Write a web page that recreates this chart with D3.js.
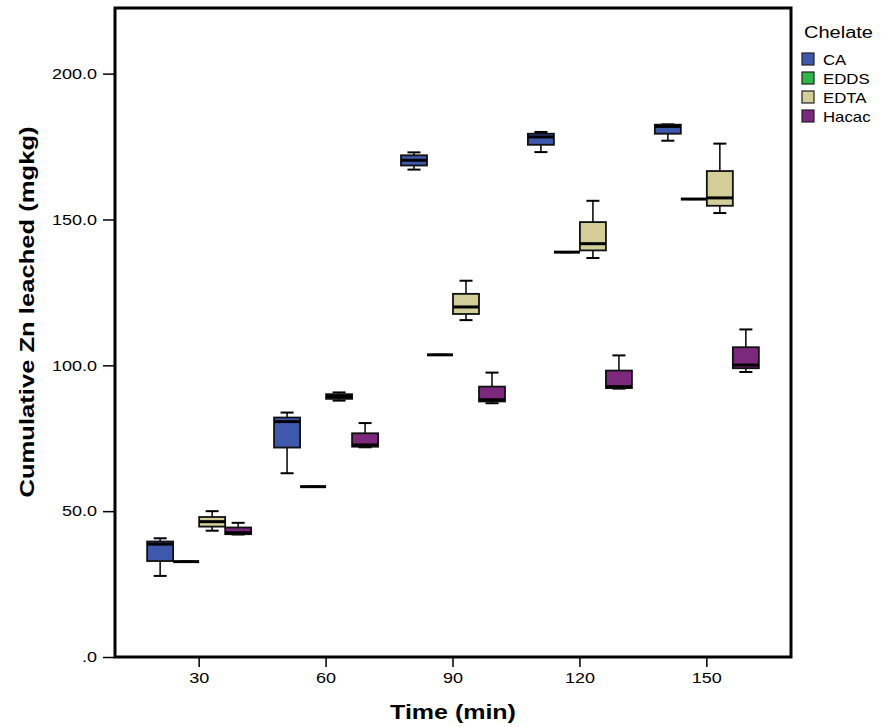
<!DOCTYPE html>
<html>
<head>
<meta charset="utf-8">
<script src="https://cdn.jsdelivr.net/npm/d3@7"></script>
<style>
body { margin: 0; background: #fff; }
text { font-family: Arial, "Liberation Sans", sans-serif; fill: #000; }
</style>
</head>
<body>
<script>
var times = ["30", "60", "90", "120", "150"];
var chelates = ["CA", "EDDS", "EDTA", "Hacac"];
var colors = ["#3e58ac", "#2eb848", "#d3ce97", "#7c287d"];
var yTicks = [0, 50, 100, 150, 200];

// [low whisker, Q1, median, Q3, high whisker] for each time
var caStats = [[27.8, 32.9, 38.7, 39.6, 40.7], [63.0, 71.8, 80.7, 82.1, 83.8], [167.1, 168.5, 170.3, 172.0, 173.0], [173.1, 175.6, 178.3, 179.4, 180.0], [177.0, 179.4, 181.9, 182.5, 182.6]];
var eddsStats = [[32.7, 32.7, 32.7, 32.7, 32.7], [58.4, 58.4, 58.4, 58.4, 58.4], [103.6, 103.6, 103.6, 103.6, 103.6], [138.8, 138.8, 138.8, 138.8, 138.8], [157.0, 157.0, 157.0, 157.0, 157.0]];
var edtaStats = [[43.3, 44.7, 46.4, 48.0, 50.0], [87.9, 88.5, 89.3, 90.1, 90.7], [115.5, 117.6, 120.0, 124.5, 129.0], [136.8, 139.4, 141.7, 149.1, 156.4], [152.2, 154.7, 157.4, 166.6, 176.0]];
var hacacStats = [[42.0, 42.1, 42.6, 44.4, 46.0], [71.9, 72.1, 72.7, 76.7, 80.2], [87.0, 87.6, 88.2, 92.7, 97.5], [92.0, 92.2, 92.7, 98.2, 103.4], [97.7, 99.0, 100.1, 106.2, 112.3]];

var allStats = [caStats, eddsStats, edtaStats, hacacStats];

var width = 882, height = 727;
var plotLeft = 115, plotRight = 791, plotTop = 8, plotBottom = 657;

var svg = d3.select("body").append("svg")
    .attr("width", width)
    .attr("height", height);

var x = d3.scaleBand().domain(times).range([plotLeft, plotRight]).paddingInner(0).paddingOuter(0.163);
var sub = d3.scaleBand().domain(chelates).range([0, x.bandwidth()]).paddingInner(0).paddingOuter(0.44);
var y = d3.scaleLinear().domain([0, 222.5]).range([plotBottom, plotTop]);
var color = d3.scaleOrdinal().domain(chelates).range(colors);

var rows = [];
chelates.forEach(function (c, ci) {
    times.forEach(function (t, ti) {
        var s = allStats[ci][ti];
        rows.push({ chelate: c, time: t, low: s[0], q1: s[1], med: s[2], q3: s[3], high: s[4] });
    });
});

// axes
var xAxis = svg.append("g")
    .attr("transform", "translate(0," + plotBottom + ")")
    .call(d3.axisBottom(x).tickSize(10).tickPadding(5));
xAxis.select(".domain").remove();
xAxis.selectAll("line").attr("stroke-width", 1.5);
xAxis.selectAll("text").style("font-size", "15px").attr("transform", "scale(1.2,1)");

var yAxis = svg.append("g")
    .attr("transform", "translate(" + plotLeft + ",0)")
    .call(d3.axisLeft(y).tickValues(yTicks).tickSize(12).tickPadding(3)
        .tickFormat(function (d) { return d === 0 ? ".0" : d3.format(".1f")(d); }));
yAxis.select(".domain").remove();
yAxis.selectAll("line").attr("stroke-width", 1.5);
yAxis.selectAll("text").style("font-size", "15px").attr("transform", "scale(1.2,1)");

// boxes
var g = svg.selectAll(".box")
    .data(rows)
    .enter().append("g")
    .attr("class", "box")
    .attr("transform", function (d) { return "translate(" + (x(d.time) + sub(d.chelate)) + ",0)"; });

var bw = sub.bandwidth();

g.append("line")
    .attr("x1", bw / 2).attr("x2", bw / 2)
    .attr("y1", function (d) { return y(d.high); })
    .attr("y2", function (d) { return y(d.low); })
    .attr("stroke", "#000").attr("stroke-width", 1.5);

g.selectAll(".cap")
    .data(function (d) { return [d.low, d.high]; })
    .enter().append("line")
    .attr("x1", bw / 4).attr("x2", bw * 3 / 4)
    .attr("y1", function (v) { return y(v); })
    .attr("y2", function (v) { return y(v); })
    .attr("stroke", "#000").attr("stroke-width", 2);

g.append("rect")
    .attr("x", 0)
    .attr("width", bw)
    .attr("y", function (d) { return y(d.q3); })
    .attr("height", function (d) { return y(d.q1) - y(d.q3); })
    .attr("fill", function (d) { return color(d.chelate); })
    .attr("stroke", "#111").attr("stroke-width", 1.8);

g.append("line")
    .attr("x1", 0).attr("x2", bw)
    .attr("y1", function (d) { return y(d.med); })
    .attr("y2", function (d) { return y(d.med); })
    .attr("stroke", "#000").attr("stroke-width", 3);

// frame
svg.append("rect")
    .attr("x", plotLeft).attr("y", plotTop)
    .attr("width", plotRight - plotLeft).attr("height", plotBottom - plotTop)
    .attr("fill", "none").attr("stroke", "#000").attr("stroke-width", 3);

// axis titles
svg.append("text")
    .attr("transform", "translate(" + ((plotLeft + plotRight) / 2) + ",719) scale(1.25,1)")
    .attr("text-anchor", "middle")
    .style("font-size", "20px").style("font-weight", "bold")
    .text("Time (min)");

svg.append("text")
    .attr("transform", "translate(34,312) rotate(-90) scale(1.28,1)")
    .attr("text-anchor", "middle")
    .style("font-size", "20px").style("font-weight", "bold")
    .text("Cumulative Zn leached (mgkg)");

// legend
var legend = svg.append("g").attr("transform", "translate(802,0)");
legend.append("text")
    .attr("transform", "translate(2,38) scale(1.25,1)")
    .style("font-size", "16px")
    .text("Chelate");

var item = legend.selectAll(".item")
    .data(chelates)
    .enter().append("g")
    .attr("class", "item")
    .attr("transform", function (d, i) { return "translate(0," + (53 + i * 19) + ")"; });

item.append("rect")
    .attr("width", 12).attr("height", 12)
    .attr("fill", function (d) { return color(d); })
    .attr("stroke", "#222").attr("stroke-width", 1.2);

item.append("text")
    .attr("transform", "translate(21,12) scale(1.2,1)")
    .style("font-size", "14px")
    .text(function (d) { return d; });
</script>
</body>
</html>
